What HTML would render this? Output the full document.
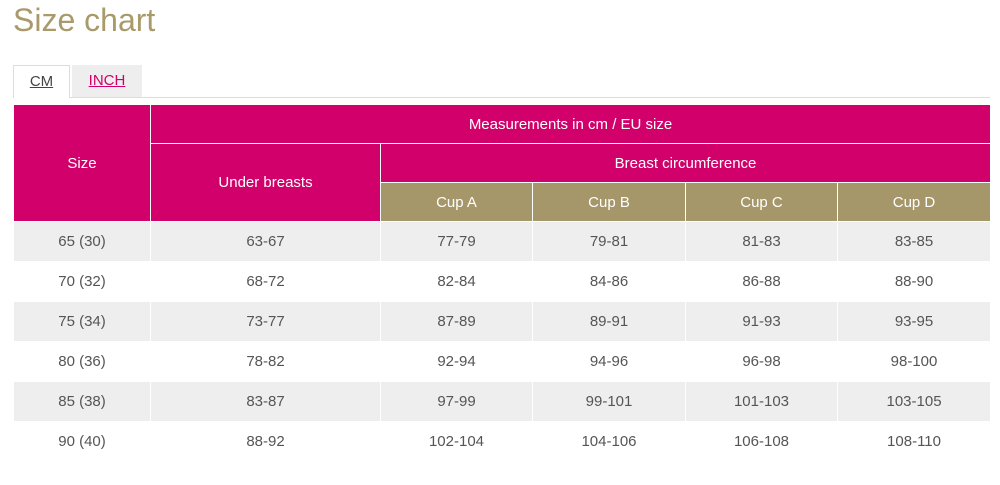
<!DOCTYPE html>
<html><head><meta charset="utf-8"><style>
body{margin:0;width:1000px;height:485px;background:#fff;font-family:"Liberation Sans",Arial,sans-serif;position:relative;overflow:hidden}
h1{position:absolute;left:13px;top:2px;margin:0;font-weight:normal;font-size:32px;color:#a89a6a;line-height:36px}
.tab{position:absolute;top:65px;height:32px;line-height:32px;text-align:center;font-size:15px;box-sizing:border-box}
.cm{left:13px;width:57px;border:1px solid #ddd;border-bottom:none;background:#fff;color:#444;height:33px;z-index:2}
.inch{left:72px;width:70px;background:#eee;color:#d1006b}
.tab span{text-decoration:underline}
.line{position:absolute;left:13px;top:97px;width:977px;height:1px;background:#ddd}
table{position:absolute;left:13px;top:104px;border-collapse:collapse;table-layout:fixed;width:977px;font-size:15px}
td{border:1px solid #fff;text-align:center;padding:0;color:#555}
.h td{background:#d1006b;color:#fff;height:38px}
td.g{background:#a6976a;color:#fff;height:38px}
tr.b td{height:39px}
tr.o td{background:#eee;border-color:#fff}
</style></head><body>
<h1>Size chart</h1>
<div class="tab cm"><span>CM</span></div>
<div class="tab inch"><span>INCH</span></div>
<div class="line"></div>
<table>
<colgroup><col style="width:137px"><col style="width:230px"><col style="width:152px"><col style="width:153px"><col style="width:152px"><col style="width:153px"></colgroup>
<tr class="h"><td rowspan="3">Size</td><td colspan="5">Measurements in cm / EU size</td></tr>
<tr class="h"><td rowspan="2">Under breasts</td><td colspan="4">Breast circumference</td></tr>
<tr><td class="g">Cup A</td><td class="g">Cup B</td><td class="g">Cup C</td><td class="g">Cup D</td></tr>
<tr class="b o"><td>65 (30)</td><td>63-67</td><td>77-79</td><td>79-81</td><td>81-83</td><td>83-85</td></tr>
<tr class="b"><td>70 (32)</td><td>68-72</td><td>82-84</td><td>84-86</td><td>86-88</td><td>88-90</td></tr>
<tr class="b o"><td>75 (34)</td><td>73-77</td><td>87-89</td><td>89-91</td><td>91-93</td><td>93-95</td></tr>
<tr class="b"><td>80 (36)</td><td>78-82</td><td>92-94</td><td>94-96</td><td>96-98</td><td>98-100</td></tr>
<tr class="b o"><td>85 (38)</td><td>83-87</td><td>97-99</td><td>99-101</td><td>101-103</td><td>103-105</td></tr>
<tr class="b"><td>90 (40)</td><td>88-92</td><td>102-104</td><td>104-106</td><td>106-108</td><td>108-110</td></tr>
</table>
</body></html>
